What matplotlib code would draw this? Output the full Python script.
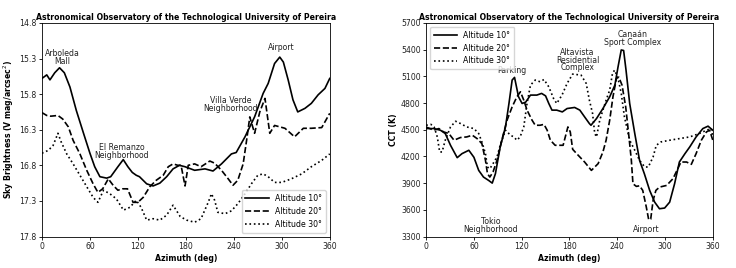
import numpy as np
import matplotlib
matplotlib.use("Agg")
import matplotlib.pyplot as plt

# ---- sky brightness (V mag/arcsec^2) vs azimuth
sb_az10 = [0, 6, 10, 16, 22, 28, 35, 43, 52, 60, 66, 72.5, 81, 86, 95, 101.7, 107.5, 113, 118, 122,
           131, 139, 147.5, 156, 164, 172, 179, 191, 204, 214, 224.6, 237, 243, 254, 266, 276.7,
           283, 291, 297.5, 302, 308, 314, 320, 329, 337, 345.5, 354, 360]
sb_alt10 = [15.58, 15.53, 15.6, 15.5, 15.43, 15.5, 15.7, 16.03, 16.35, 16.63, 16.82, 16.96, 16.98,
            16.96, 16.82, 16.72, 16.82, 16.9, 16.94, 16.96, 17.06, 17.09, 17.05, 16.96, 16.85, 16.8,
            16.82, 16.87, 16.85, 16.88, 16.78, 16.64, 16.62, 16.40, 16.12, 15.79, 15.65, 15.37,
            15.28, 15.35, 15.6, 15.88, 16.05, 16.0, 15.93, 15.81, 15.72, 15.58]

sb_az20 = [0, 6, 11, 20, 26, 33, 39, 47.5, 56, 64, 70, 76, 83, 89, 95, 101, 107, 114, 120, 126.7,
           135, 143, 151.7, 158, 164, 170, 174, 179, 183, 191, 199, 210, 216, 224.6, 233, 239, 245,
           251.7, 256, 260, 266, 272.5, 279, 285, 291, 304, 316, 327, 337, 350, 360]
sb_alt20 = [16.06, 16.1, 16.11, 16.1, 16.15, 16.26, 16.45, 16.64, 16.87, 17.06, 17.18, 17.13, 16.99,
            17.08, 17.15, 17.13, 17.13, 17.32, 17.32, 17.25, 17.1, 17.01, 16.94, 16.82, 16.78, 16.8,
            16.8, 17.09, 16.8, 16.78, 16.82, 16.74, 16.77, 16.87, 16.99, 17.08, 17.01, 16.78, 16.45,
            16.12, 16.35, 16.05, 15.86, 16.35, 16.24, 16.28, 16.40, 16.28, 16.28, 16.27, 16.07]

sb_az30 = [0, 8, 14, 20, 24, 31, 39, 47.5, 56, 64, 70, 77, 85, 93, 102, 110, 118, 124, 131, 139,
           147.5, 156, 164, 173, 181, 191, 199, 208, 212, 216, 220, 229, 237, 245, 254, 262, 270,
           276.7, 283, 291, 300, 312, 325, 337, 350, 360]
sb_alt30 = [16.63, 16.59, 16.52, 16.35, 16.47, 16.64, 16.78, 16.94, 17.1, 17.25, 17.32, 17.15, 17.2,
            17.27, 17.43, 17.39, 17.29, 17.39, 17.57, 17.55, 17.57, 17.5, 17.36, 17.52, 17.57, 17.6,
            17.55, 17.32, 17.2, 17.29, 17.46, 17.48, 17.44, 17.34, 17.2, 17.06, 16.94, 16.92, 16.96,
            17.04, 17.04, 16.99, 16.92, 16.82, 16.73, 16.64]

# ---- correlated colour temperature (K) vs azimuth
cct_az10 = [0, 9.7, 18, 24, 30.6, 39, 45, 53.6, 60, 66, 72, 78.5, 83, 87, 93, 99.6, 104, 108, 111,
            116, 120.5, 125, 131, 139, 145, 150, 154, 158, 164, 171, 177, 186.5, 193, 199, 205, 207,
            214, 222, 230.5, 237, 241, 245, 248, 251, 255.6, 262, 268, 274, 280.7, 287, 293, 299.5,
            305.8, 312, 318, 325, 331, 339, 347.5, 354, 360]
cct_alt10 = [4513, 4513, 4494, 4457, 4325, 4186, 4231, 4269, 4190, 4043, 3968, 3930, 3900, 4006,
             4306, 4531, 4795, 5058, 5088, 4870, 4795, 4810, 4889, 4889, 4908, 4880, 4795, 4720,
             4720, 4700, 4738, 4750, 4720, 4644, 4569, 4550, 4626, 4738, 4870, 5001, 5207, 5396,
             5390, 5170, 4795, 4457, 4156, 4006, 3818, 3686, 3612, 3620, 3686, 3893, 4137, 4231,
             4306, 4419, 4513, 4540, 4494]

cct_az20 = [0, 9.7, 16, 22, 28.5, 35, 43, 51, 58, 64, 70, 74.5, 77, 80, 84, 89, 95, 101.6, 108, 114,
            118.4, 122.6, 126.7, 133, 137, 143, 148, 152, 156, 162, 168, 172, 178, 181, 184, 189,
            199, 207.5, 216, 222, 226, 230.5, 234.6, 239, 242, 246, 250.6, 254.7, 257.7, 259.7, 264,
            268, 272, 276.5, 279.5, 282, 285, 288.5, 293, 302, 310, 316, 320, 327, 333, 339, 345.6,
            352, 356, 360]
cct_alt20 = [4530, 4494, 4513, 4475, 4457, 4382, 4412, 4419, 4438, 4400, 4344, 4156, 4006, 3968,
             4025, 4156, 4382, 4607, 4757, 4870, 4926, 4832, 4720, 4607, 4550, 4550, 4560, 4494,
             4382, 4325, 4325, 4325, 4531, 4475, 4280, 4231, 4137, 4043, 4119, 4250, 4382, 4607,
             4870, 5077, 5090, 5001, 4757, 4419, 4156, 3893, 3863, 3870, 3818, 3630, 3488, 3495,
             3705, 3818, 3855, 3874, 3950, 4062, 4137, 4137, 4111, 4231, 4382, 4475, 4494, 4382]

cct_az30 = [0, 6, 10, 14, 17, 20, 24, 30.6, 37, 43, 51, 60, 66, 70, 74.5, 77, 80, 84, 89, 93, 99.6,
            106, 110, 114, 118, 122.6, 126.7, 131, 137, 143, 148, 154, 160, 164, 170.6, 177, 184,
            194.5, 201, 205, 209, 211.7, 214, 218, 222, 226, 230.5, 234, 236.7, 241, 245, 249,
            255.6, 262, 268, 274.5, 279, 285, 289, 295, 306, 318, 331, 343, 352, 358, 360]
cct_alt30 = [4550, 4560, 4531, 4419, 4250, 4250, 4382, 4531, 4595, 4570, 4531, 4513, 4457, 4363,
             4231, 4081, 4062, 4119, 4194, 4325, 4494, 4438, 4419, 4382, 4419, 4531, 4795, 5001,
             5058, 5039, 5064, 4982, 4851, 4795, 4889, 5020, 5125, 5114, 5020, 4832, 4682, 4457,
             4419, 4607, 4720, 4832, 4945, 5133, 5170, 5077, 4908, 4644, 4382, 4269, 4156, 4081,
             4081, 4194, 4325, 4363, 4382, 4400, 4419, 4457, 4494, 4513, 4420]

title = "Astronomical Observatory of the Technological University of Pereira"
labels = ["Altitude 10°", "Altitude 20°", "Altitude 30°"]
styles = ["-", "--", ":"]

sb_notes = [("Arboleda\nMall", 25, 15.29), ("El Remanzo\nNeighborhood", 99.6, 16.60),
            ("Villa Verde\nNeighborhood", 236, 15.95), ("Airport", 299, 15.15)]
cct_notes = [("Parking", 107.5, 5170), ("Altavista\nResidential\nComplex", 190, 5283),
             ("Canaán\nSport Complex", 259, 5525), ("Tokio\nNeighborhood", 81, 3424),
             ("Airport", 277, 3378)]

fs = 5.6

fig = plt.figure(figsize=(7.36, 2.68), dpi=100)
ax1 = fig.add_axes([0.057, 0.1175, 0.391, 0.797])
ax2 = fig.add_axes([0.579, 0.1175, 0.3895, 0.797])

for ax in (ax1, ax2):
    for sp in ax.spines.values():
        sp.set_linewidth(0.6)
    ax.tick_params(labelsize=fs, width=0.6, length=2.5, pad=1.5, labelcolor="#222222")
    ax.set_xlim(0, 360)
    ax.set_xticks(np.arange(0, 361, 60))
    ax.set_xlabel("Azimuth (deg)", fontsize=fs, fontweight="bold", labelpad=2)
    ax.set_title(title, fontsize=fs, fontweight="bold", pad=2)

# left panel
for x, y, ls, lab in zip([sb_az10, sb_az20, sb_az30], [sb_alt10, sb_alt20, sb_alt30], styles, labels):
    ax1.plot(x, y, ls, color="black", lw=1.2, label=lab)
ax1.set_ylim(17.8, 14.8)
ax1.set_yticks(np.arange(14.8, 17.81, 0.5))
ax1.set_ylabel("Sky Brightness (V mag/arcsec$^2$)", fontsize=fs, fontweight="bold", labelpad=2)
for txt, x, y in sb_notes:
    ax1.text(x, y, txt, fontsize=fs, ha="center", va="center", linespacing=0.85, color="#222222")
ax1.legend(loc="lower right", fontsize=fs, handlelength=3, borderpad=0.5, labelspacing=0.5)

# right panel
for x, y, ls, lab in zip([cct_az10, cct_az20, cct_az30], [cct_alt10, cct_alt20, cct_alt30], styles, labels):
    ax2.plot(x, y, ls, color="black", lw=1.2, label=lab)
ax2.set_ylim(3300, 5700)
ax2.set_yticks(np.arange(3300, 5701, 300))
ax2.set_ylabel("CCT (K)", fontsize=fs, fontweight="bold", labelpad=2)
for txt, x, y in cct_notes:
    ax2.text(x, y, txt, fontsize=fs, ha="center", va="center", linespacing=0.85, color="#222222")
ax2.legend(loc="upper left", fontsize=fs, handlelength=3, borderpad=0.5, labelspacing=0.5)

fig.savefig("out.png", dpi=100)
